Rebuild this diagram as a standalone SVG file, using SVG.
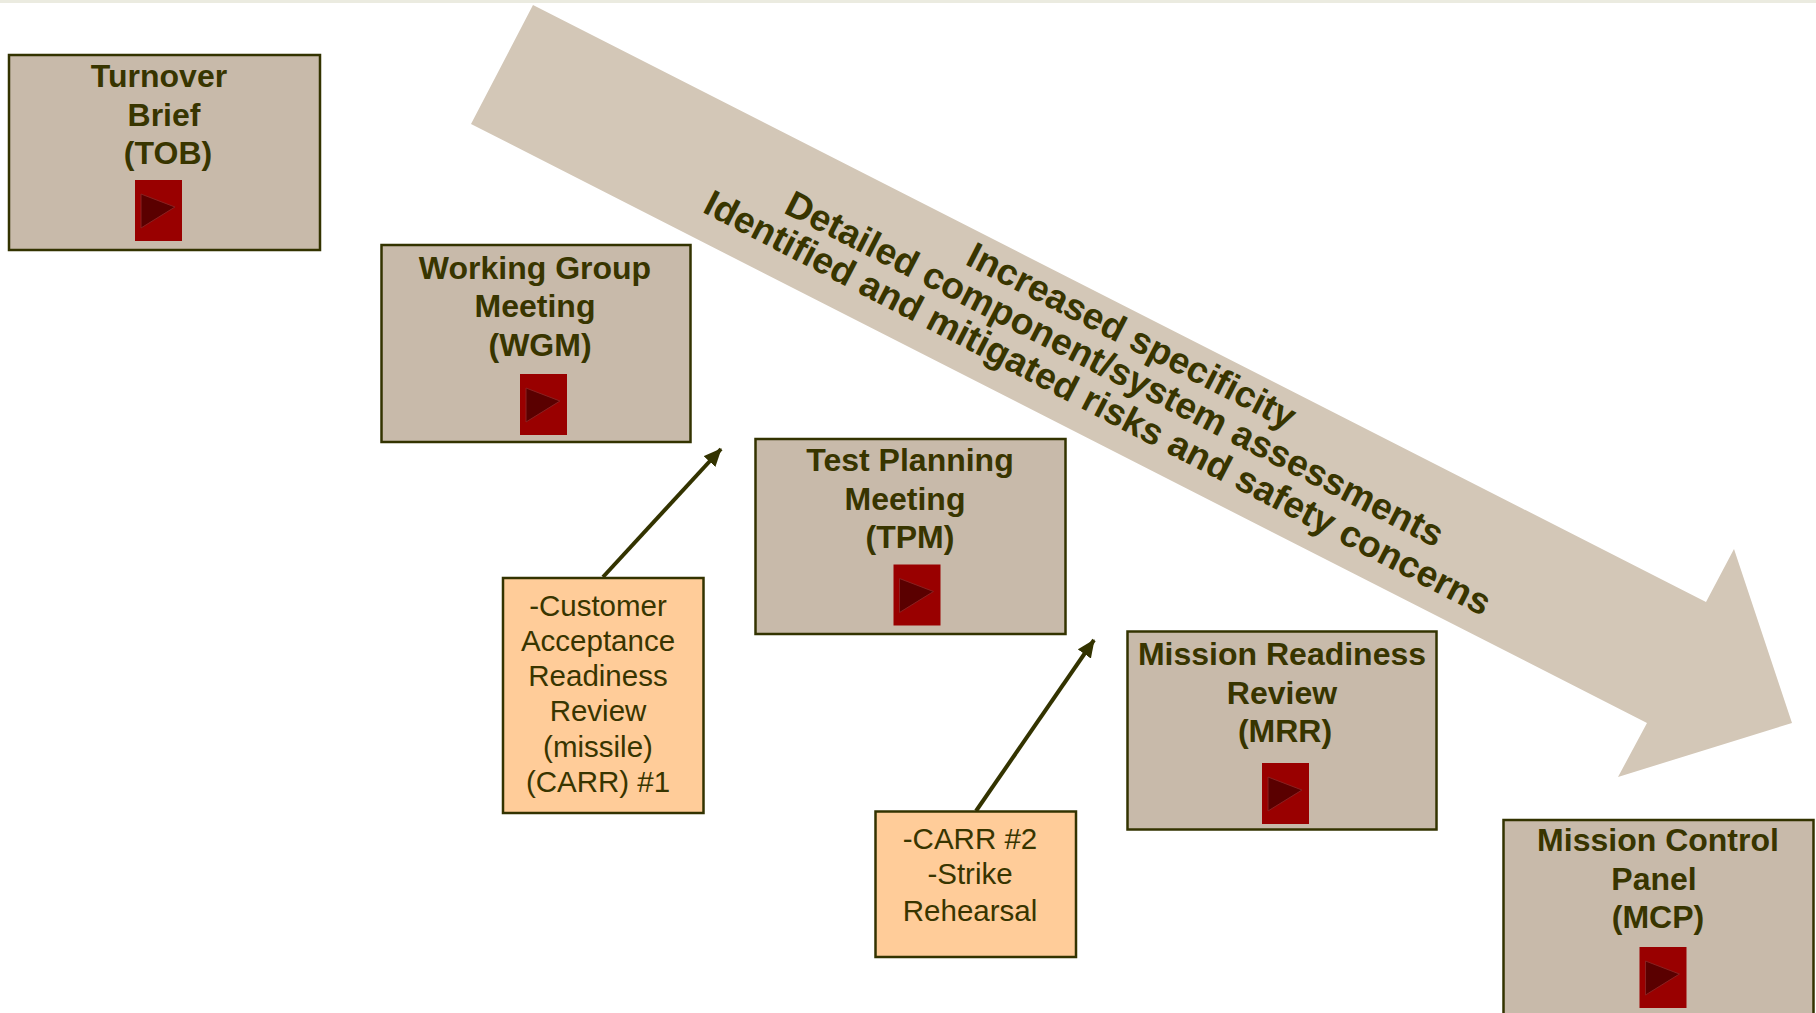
<svg xmlns="http://www.w3.org/2000/svg" width="1816" height="1013" viewBox="0 0 1816 1013">
<defs>
<marker id="ah" markerUnits="userSpaceOnUse" markerWidth="18" markerHeight="16" refX="17" refY="8" orient="auto"><path d="M0 0L18 8L0 16Z" fill="#333300"/></marker>
<g id="play"><rect x="0" y="0" width="47" height="61" fill="#990000"/><path d="M6 18L40 31L6 52Z" transform="translate(0,-4)" fill="#5a0000" stroke="#8a2020" stroke-width="1"/></g>
</defs>
<style>
.n{fill:#c8baaa;stroke:#333300;stroke-width:2.5}
.o{fill:#ffcc99;stroke:#333300;stroke-width:2.5}
text{font-family:"Liberation Sans",Arial,sans-serif;fill:#383500;text-anchor:middle}
.b{font-weight:bold;font-size:32px}
.r{font-size:29.5px}
.d{font-weight:bold;font-size:37px}
</style>
<rect width="1816" height="1013" fill="#fff"/>
<rect width="1816" height="3" fill="#ebebe0"/>
<g id="banner">
<path d="M533 5L1706 602L1734 549L1792 723L1618 777L1647 723L471 124Z" fill="#d3c7b7"/>
<text class="d" transform="translate(1126,347) rotate(27.2)">Increased specificity</text>
<text class="d" transform="translate(1109,380) rotate(27.2)">Detailed component/system assessments</text>
<text class="d" transform="translate(1092,414) rotate(27.4)">Identified and mitigated risks and safety concerns</text>
</g>
<g id="connectors">
<line x1="603" y1="577" x2="721" y2="449" stroke="#333300" stroke-width="4" marker-end="url(#ah)"/>
<line x1="976" y1="811" x2="1094" y2="640" stroke="#333300" stroke-width="4" marker-end="url(#ah)"/>
</g>
<g id="tob"><rect class="n" x="9" y="55" width="311" height="195"/><text class="b"><tspan x="159" y="87">Turnover</tspan><tspan x="164" y="126">Brief</tspan><tspan x="168" y="164">(TOB)</tspan></text><use href="#play" x="135" y="180"/></g>
<g id="wgm"><rect class="n" x="381.500" y="245" width="309" height="197"/><text class="b"><tspan x="535" y="279">Working Group</tspan><tspan x="535" y="317">Meeting</tspan><tspan x="540" y="356">(WGM)</tspan></text><use href="#play" x="520" y="374"/></g>
<g id="tpm"><rect class="n" x="755.500" y="439" width="310" height="195"/><text class="b"><tspan x="910" y="471">Test Planning</tspan><tspan x="905" y="510">Meeting</tspan><tspan x="910" y="548">(TPM)</tspan></text><use href="#play" x="893.500" y="564.500"/></g>
<g id="mrr"><rect class="n" x="1127.500" y="631.500" width="309" height="198"/><text class="b"><tspan x="1282" y="665">Mission Readiness</tspan><tspan x="1282" y="704">Review</tspan><tspan x="1285" y="742">(MRR)</tspan></text><use href="#play" x="1262" y="763"/></g>
<g id="mcp"><rect class="n" x="1503.500" y="820" width="310" height="200"/><text class="b"><tspan x="1658" y="851">Mission Control</tspan><tspan x="1654" y="890">Panel</tspan><tspan x="1658" y="928">(MCP)</tspan></text><use href="#play" x="1639.500" y="947"/></g>
<g id="carr1"><rect class="o" x="503" y="578" width="200.500" height="235"/><text class="r"><tspan x="598" y="616">-Customer</tspan><tspan x="598" y="651">Acceptance</tspan><tspan x="598" y="686">Readiness</tspan><tspan x="598" y="721">Review</tspan><tspan x="598" y="757">(missile)</tspan><tspan x="598" y="792">(CARR) #1</tspan></text></g>
<g id="carr2"><rect class="o" x="875.500" y="811.500" width="200.500" height="145.500"/><text class="r"><tspan x="970" y="849">-CARR #2</tspan><tspan x="970" y="884">-Strike</tspan><tspan x="970" y="921">Rehearsal</tspan></text></g>
</svg>
